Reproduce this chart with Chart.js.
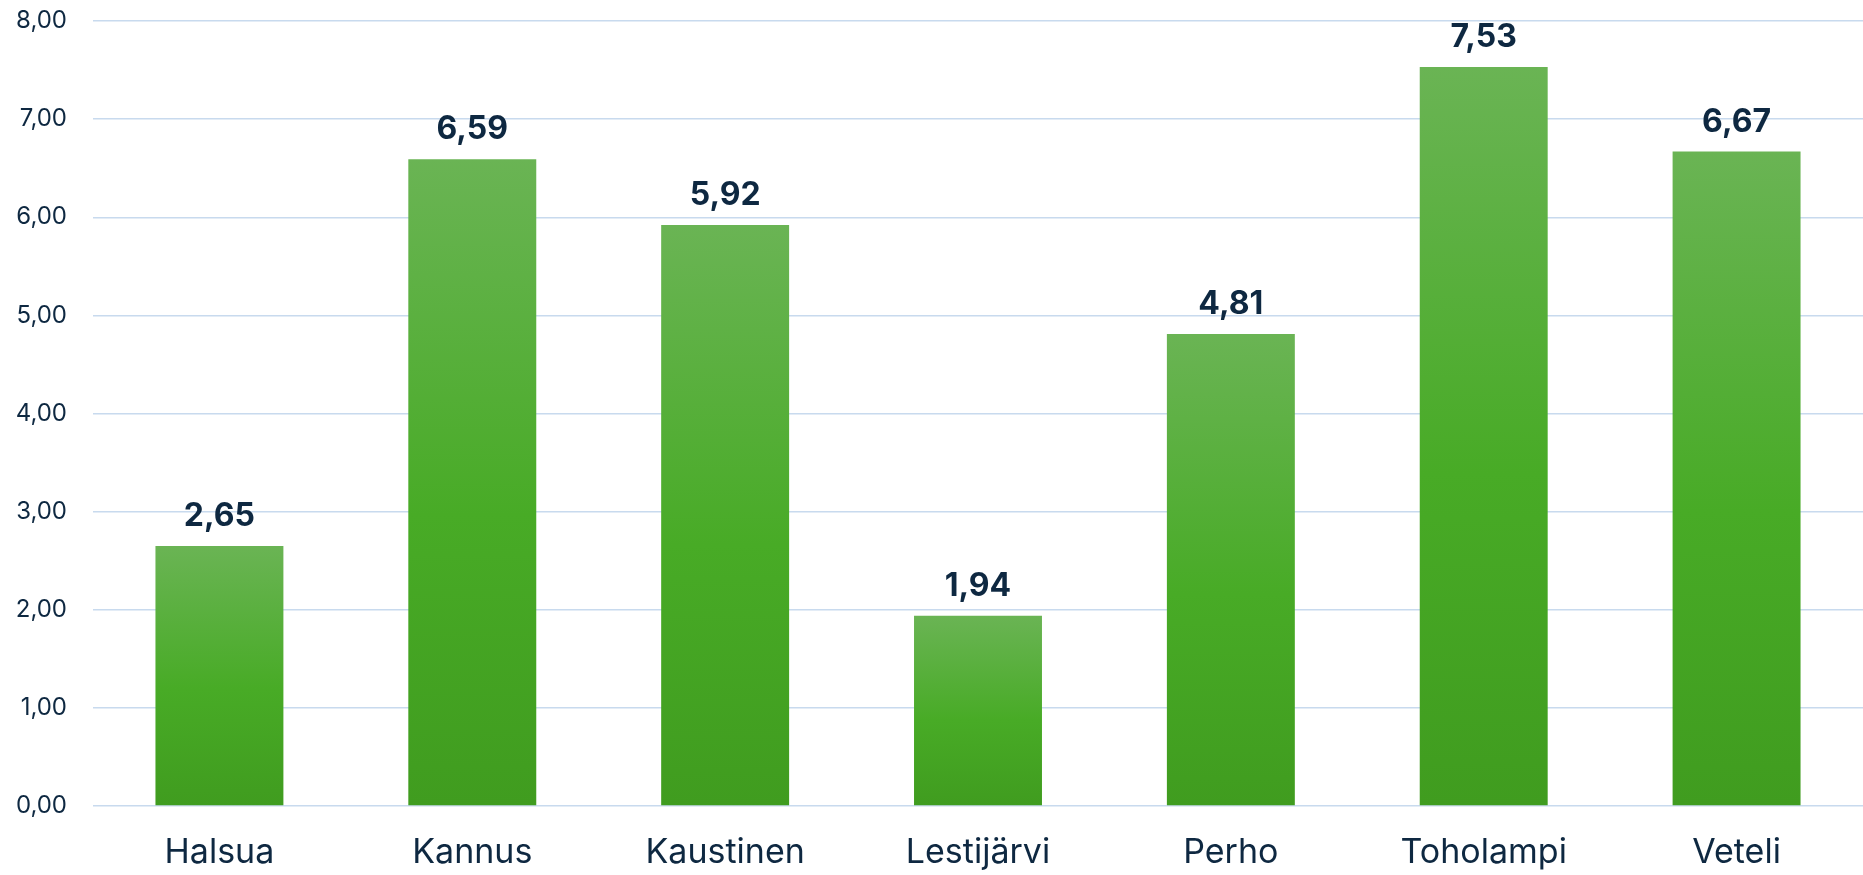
<!DOCTYPE html>
<html>
<head>
<meta charset="utf-8">
<script src="https://cdn.jsdelivr.net/npm/chart.js@4"></script>
<style>
  html, body { margin: 0; padding: 0; background: #fff; }
  .chart-box { width: 1863px; height: 875px; }
</style>
</head>
<body>
<div class="chart-box"><canvas id="bar-chart"></canvas></div>
<script>
// Chart data
const municipalities = ['Halsua', 'Kannus', 'Kaustinen', 'Lestijärvi', 'Perho', 'Toholampi', 'Veteli'];
const values = [2.65, 6.59, 5.92, 1.94, 4.81, 7.53, 6.67];
const yTicks = [0, 1, 2, 3, 4, 5, 6, 7, 8];

const textColor = '#0e2841';
const gridColor = '#c8daee';
const fontFamily = 'Inter, "Open Sans", sans-serif';

const fmt = v => v.toFixed(2).replace('.', ',');

// Vertical green gradient for each bar, from its top down to zero
function barGradient(context) {
    const chart = context.chart;
    const { ctx, chartArea, scales } = chart;
    if (!chartArea) return '#4aab2a';
    const top = scales.y.getPixelForValue(values[context.dataIndex]);
    const bottom = scales.y.getPixelForValue(0);
    const g = ctx.createLinearGradient(0, top, 0, bottom);
    g.addColorStop(0, '#6ab454');
    g.addColorStop(0.55, '#48ab26');
    g.addColorStop(1, '#409c1f');
    return g;
}

// Value labels above bars
const valueLabels = {
    id: 'valueLabels',
    afterDatasetsDraw(chart) {
        const { ctx } = chart;
        const meta = chart.getDatasetMeta(0);
        ctx.save();
        ctx.font = 'bold 32px ' + fontFamily;
        ctx.fillStyle = textColor;
        ctx.textAlign = 'center';
        ctx.textBaseline = 'alphabetic';
        meta.data.forEach((bar, i) => {
            ctx.fillText(fmt(values[i]), bar.x, bar.y - 20);
        });
        ctx.restore();
    }
};

new Chart(document.getElementById('bar-chart'), {
    type: 'bar',
    data: {
        labels: municipalities,
        datasets: [{
            data: values,
            backgroundColor: barGradient,
            borderWidth: 0,
            categoryPercentage: 1,
            barPercentage: 0.506
        }]
    },
    options: {
        responsive: true,
        maintainAspectRatio: false,
        animation: false,
        layout: { padding: { top: 21, right: 0, bottom: 0, left: 0 } },
        plugins: {
            legend: { display: false },
            tooltip: { enabled: false }
        },
        scales: {
            x: {
                grid: { display: false, drawTicks: false },
                border: { display: false },
                ticks: {
                    color: textColor,
                    font: { family: fontFamily, size: 34 },
                    padding: 26
                },
                afterFit(scale) { scale.height = 69; }
            },
            y: {
                min: 0,
                max: 8,
                afterBuildTicks(scale) { scale.ticks = yTicks.map(v => ({ value: v })); },
                grid: { color: gridColor, lineWidth: 1.5, drawTicks: false },
                border: { display: false },
                ticks: {
                    color: textColor,
                    font: { family: fontFamily, size: 24 },
                    padding: 26,
                    callback: v => fmt(v)
                },
                afterFit(scale) {
                    scale.width = 93;
                    scale.paddingTop = 0;
                    scale.paddingBottom = 0;
                }
            }
        }
    },
    plugins: [valueLabels]
});
</script>
</body>
</html>
